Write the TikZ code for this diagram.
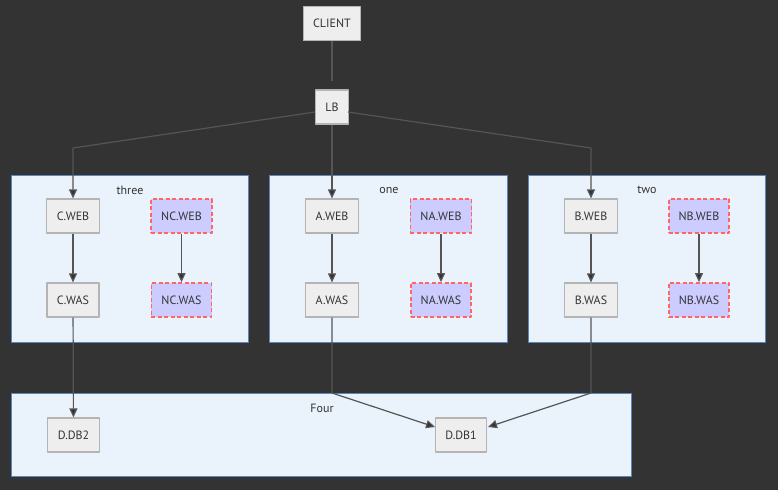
\documentclass[tikz,border=0pt]{standalone}
\usepackage{fontspec}
\setmainfont{PT Sans}
\usetikzlibrary{arrows.meta}
\definecolor{bgdark}{HTML}{333333}
\definecolor{boxfill}{HTML}{EEEEEE}
\definecolor{boxline}{HTML}{B4B4B4}
\definecolor{grpfill}{HTML}{EAF2FB}
\definecolor{grpline}{HTML}{5B86BE}
\definecolor{newfill}{HTML}{CCCCFF}
\definecolor{newline}{HTML}{FF6666}
\definecolor{linkcol}{HTML}{555555}
\definecolor{txtcol}{HTML}{333333}
\tikzset{
  box/.style={draw=boxline, fill=boxfill, line width=1.2pt, minimum height=34pt, inner xsep=10pt, text=txtcol},
  newbox/.style={box, draw=newline, fill=newfill, line width=1.8pt, dash pattern=on 4pt off 2.5pt},
  group/.style={draw=grpline, fill=grpfill, line width=0.9pt, inner sep=0pt},
  grptitle/.style={text=txtcol},
  link/.style={draw=linkcol, line width=1.2pt, -{Triangle[length=9pt,width=8pt,fill=bgdark]}},
}
\begin{document}
\begin{tikzpicture}[x=1pt, y=-1pt, font=\fontsize{12}{14}\selectfont, line join=round]
	% KHUNG NỀN
	\fill[bgdark] (0,0) rectangle (778,490);
	\useasboundingbox (0,0) rectangle (778,490);
	
	% CÁC NHÓM
	\node[group, minimum width=237pt, minimum height=167pt] (three) at (129.5,258.5) {};
	\node[group, minimum width=238pt, minimum height=167pt] (one) at (388,258.5) {};
	\node[group, minimum width=237pt, minimum height=167pt] (two) at (646.5,258.5) {};
	\node[group, minimum width=620pt, minimum height=83pt] (four) at (321,434.5) {};
	\node[grptitle] (threeT) at (130,190) {three};
	\node[grptitle] (oneT) at (389,190) {one};
	\node[grptitle] (twoT) at (647,190) {two};
	\node[grptitle] (fourT) at (322,408) {Four};
	
	% CÁC NÚT
	\node[box] (client) at (332,23.5) {CLIENT};
	\node[box] (lb) at (332,107) {LB};
	\node[box] (cweb) at (73,216) {C.WEB};
	\node[box] (cwas) at (73,300) {C.WAS};
	\node[newbox] (ncweb) at (181.5,216) {NC.WEB};
	\node[newbox] (ncwas) at (181.5,300) {NC.WAS};
	\node[box] (aweb) at (332,216) {A.WEB};
	\node[box] (awas) at (332,300) {A.WAS};
	\node[newbox] (naweb) at (441,216) {NA.WEB};
	\node[newbox] (nawas) at (441,300) {NA.WAS};
	\node[box] (bweb) at (591,216) {B.WEB};
	\node[box] (bwas) at (591,300) {B.WAS};
	\node[newbox] (nbweb) at (699,216) {NB.WEB};
	\node[newbox] (nbwas) at (699,300) {NB.WAS};
	\node[box] (dbtwo) at (73.5,435) {D.DB2};
	\node[box] (dbone) at (461,435) {D.DB1};
	
	% ĐIỂM GẤP
	\coordinate (kC) at (73,148);
	\coordinate (kB) at (591,148);
	\coordinate (kA) at (332,393);
	\coordinate (kD) at (591,393);
	\coordinate (lbL) at (315,112);
	\coordinate (lbR) at (348,112);
	\coordinate (inA) at (435,427);
	\coordinate (inB) at (488,427);
	
	% CÁC ĐƯỜNG NỐI
	\draw[draw=linkcol, line width=1.2pt, shorten >=8pt] (client) -- (lb);
	\draw[link] (lbL) -- (kC) -- (cweb);
	\draw[link] (lb) -- (aweb);
	\draw[link] (lbR) -- (kB) -- (bweb);
	\foreach \a/\b in {cweb/cwas, ncweb/ncwas, aweb/awas, naweb/nawas, bweb/bwas, nbweb/nbwas, cwas/dbtwo} {
		\draw[link] (\a) -- (\b);
	}
	\draw[link] (awas) -- (kA) -- (inA);
	\draw[link] (bwas) -- (kD) -- (inB);
\end{tikzpicture}
\end{document}
